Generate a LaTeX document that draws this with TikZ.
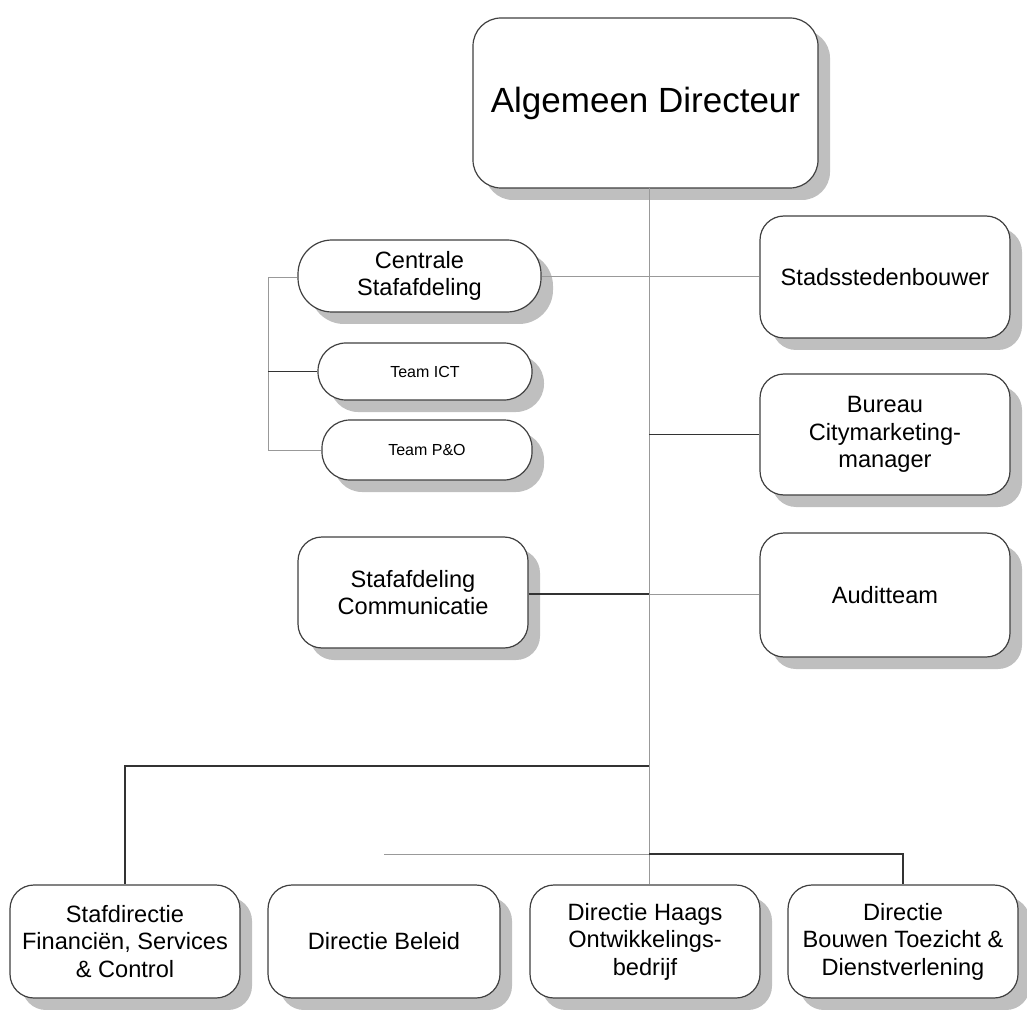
\documentclass[tikz,border=0pt]{standalone}
\usepackage{fontspec}
\setmainfont{Liberation Sans}
\usetikzlibrary{shadows}
\begin{document}
\begin{tikzpicture}[x=0.5pt,y=-0.5pt,
    box/.style={draw=black!75, line width=0.6pt, fill=white, rounded corners=12pt,
      align=center, inner sep=2pt, font=\fontsize{11.8}{13.8}\selectfont,
      drop shadow={shadow xshift=6pt, shadow yshift=-6pt, fill=black!25, opacity=1}},
    lnk/.style={draw=black!40, line width=0.5pt},
    dlnk/.style={draw=black!80, line width=0.6pt}]
  \useasboundingbox (0,0) rectangle (1027,1010);
  \draw
    (645.5,103) node[box, minimum width=172.5pt, minimum height=85pt, rounded corners=14pt,
      font=\fontsize{17.5}{20}\selectfont] (ad){Algemeen Directeur}
    (419.5,276) node[box, minimum width=121.5pt, minimum height=36pt, rounded corners=17pt] (cs){Centrale\\Stafafdeling}
    (425,371.5) node[box, minimum width=107pt, minimum height=28.5pt, rounded corners=14pt,
      font=\fontsize{8}{9.5}\selectfont] (ict){Team ICT}
    (427,450) node[box, minimum width=105pt, minimum height=30pt, rounded corners=14pt,
      font=\fontsize{8}{9.5}\selectfont] (po){Team P\&O}
    (885,277) node[box, minimum width=125pt, minimum height=61pt] (sb){Stadsstedenbouwer}
    (885,434.5) node[box, minimum width=125pt, minimum height=60.5pt] (bc){Bureau\\Citymarketing-\\manager}
    (413,592.5) node[box, minimum width=115pt, minimum height=55.5pt] (com){Stafafdeling\\Communicatie}
    (885,595) node[box, minimum width=125pt, minimum height=62pt] (at){Auditteam}
    (125,941.5) node[box, minimum width=115pt, minimum height=56.5pt] (sfc){Stafdirectie\\Financi\"en, Services\\\& Control}
    (384,941.5) node[box, minimum width=116pt, minimum height=56.5pt] (db){Directie Beleid}
    (645,941.5) node[box, minimum width=115pt, minimum height=56.5pt] (hob){Directie Haags\\Ontwikkelings-\\bedrijf}
    (903,941.5) node[box, minimum width=115pt, minimum height=56.5pt] (bdt){Directie\\Bouwen Toezicht \&\\Dienstverlening};
  \coordinate (tr) at (649,188);
  \coordinate (br) at (268,278);
  \coordinate (j) at (384,854);
  \begin{scope}[on background layer/.try]
    \draw[lnk] (tr) -- (tr |- hob.north);
    \draw[lnk] (cs.east |- 0,277) -- (sb.west |- 0,277);
    \draw[lnk] (br) -- (cs.west |- br);
    \draw[lnk] (br) -- (br |- po.west) -- (po.west);
    \draw[dlnk] (br |- ict.west) -- (ict.west);
    \draw[dlnk] (tr |- bc.west) -- (bc.west);
    \draw[dlnk] (com.east |- 0,594) -- (tr |- 0,594);
    \draw[lnk] (tr |- 0,594) -- (at.west |- 0,594);
    \draw[dlnk] (tr |- 0,766) -| (sfc.north);
    \draw[lnk] (j) -- (tr |- j);
    \draw[dlnk] (tr |- j) -| (bdt.north);
  \end{scope}
\end{tikzpicture}
\end{document}
